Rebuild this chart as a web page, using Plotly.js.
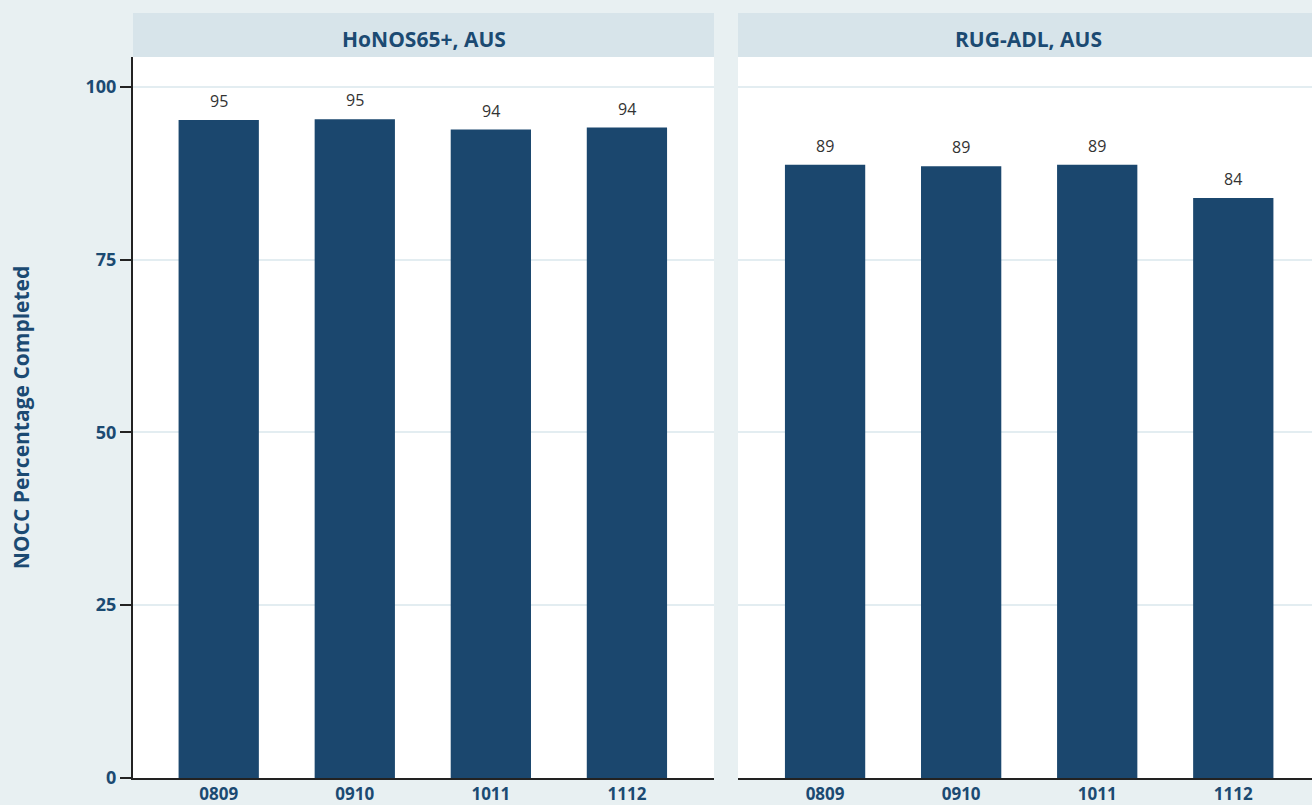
<!DOCTYPE html>
<html>
<head>
<meta charset="utf-8">
<script src="https://cdn.plot.ly/plotly-3.0.1.min.js"></script>
<style>
html,body{margin:0;padding:0;overflow:hidden;background:#e8f0f2;}
#chart{width:1320px;height:805px;}
</style>
</head>
<body>
<div id="chart"></div>
<script>
const categories = ["0809", "0910", "1011", "1112"];
const panelTitles = ["HoNOS65+, AUS", "RUG-ADL, AUS"];
const honosValues = [95.2, 95.3, 93.8, 94.1];
const rugValues = [88.7, 88.5, 88.7, 83.9];
const yTicks = [0, 25, 50, 75, 100];
const yTitle = "NOCC Percentage Completed";

const FONT = "Open Sans, Noto Sans, sans-serif";
const DARK = "#1b4a72";
const BAR = "#1b476e";

function barTrace(vals, xa, ya) {
  return {
    type: "bar", x: categories, y: vals, xaxis: xa, yaxis: ya,
    marker: {color: BAR, line: {width: 0}},
    width: 0.59,
    hoverinfo: "skip"
  };
}

function labelAnns(vals, xa, ya) {
  return vals.map((v, i) => ({
    xref: xa, yref: ya, x: i, y: v,
    text: String(Math.round(v)), showarrow: false,
    xanchor: "center", yanchor: "bottom", yshift: 6,
    font: {family: FONT, size: 16, color: "#333333"}
  }));
}

const d1 = [0, 581/1186];
const d2 = [605/1186, 1];
const stripTop = 1 + 44/721;

const tickFont = {family: FONT, size: 17, color: DARK, weight: "bold"};

const layout = {
  width: 1320, height: 805,
  margin: {l: 133, r: 1, t: 57, b: 27},
  paper_bgcolor: "#e8f0f2",
  plot_bgcolor: "#ffffff",
  showlegend: false,
  font: {family: FONT},
  xaxis: {
    domain: d1, range: [-0.63, 3.64], type: "category",
    showline: true, linecolor: "#222222", linewidth: 2,
    ticks: "", showgrid: false,
    tickfont: tickFont, fixedrange: true
  },
  xaxis2: {
    domain: d2, range: [-0.64, 3.63], type: "category", anchor: "y2",
    showline: true, linecolor: "#222222", linewidth: 2,
    ticks: "", showgrid: false,
    tickfont: tickFont, fixedrange: true
  },
  yaxis: {
    range: [0, 104.3], tickvals: yTicks,
    showline: true, linecolor: "#222222", linewidth: 2,
    ticks: "outside", ticklen: 11, tickwidth: 2, tickcolor: "#222222",
    showgrid: true, gridcolor: "#e3edf1", gridwidth: 2,
    zeroline: false,
    tickfont: {family: FONT, size: 18, color: DARK, weight: "bold"},
    title: {text: yTitle, font: {family: FONT, size: 21, color: DARK, weight: "bold"}, standoff: 50},
    fixedrange: true
  },
  yaxis2: {
    range: [0, 104.3], tickvals: yTicks, anchor: "x2", matches: "y",
    showline: false, ticks: "", showticklabels: false,
    showgrid: true, gridcolor: "#e3edf1", gridwidth: 2,
    zeroline: false, fixedrange: true
  },
  shapes: [
    {type: "rect", xref: "paper", yref: "paper", x0: d1[0], x1: d1[1], y0: 1, y1: stripTop,
     fillcolor: "#d7e4ea", line: {width: 0}},
    {type: "rect", xref: "paper", yref: "paper", x0: d2[0], x1: d2[1], y0: 1, y1: stripTop,
     fillcolor: "#d7e4ea", line: {width: 0}}
  ],
  annotations: [
    {text: panelTitles[0], xref: "paper", yref: "paper", x: (d1[0]+d1[1])/2, y: (1+stripTop)/2,
     showarrow: false, xanchor: "center", yanchor: "middle", yshift: -4,
     font: {family: FONT, size: 21, color: DARK, weight: "bold"}},
    {text: panelTitles[1], xref: "paper", yref: "paper", x: (d2[0]+d2[1])/2, y: (1+stripTop)/2,
     showarrow: false, xanchor: "center", yanchor: "middle", yshift: -4,
     font: {family: FONT, size: 21, color: DARK, weight: "bold"}}
  ].concat(labelAnns(honosValues, "x", "y"), labelAnns(rugValues, "x2", "y2"))
};

Plotly.newPlot("chart", [barTrace(honosValues, "x", "y"), barTrace(rugValues, "x2", "y2")], layout, {displayModeBar: false, staticPlot: true});
</script>
</body>
</html>
